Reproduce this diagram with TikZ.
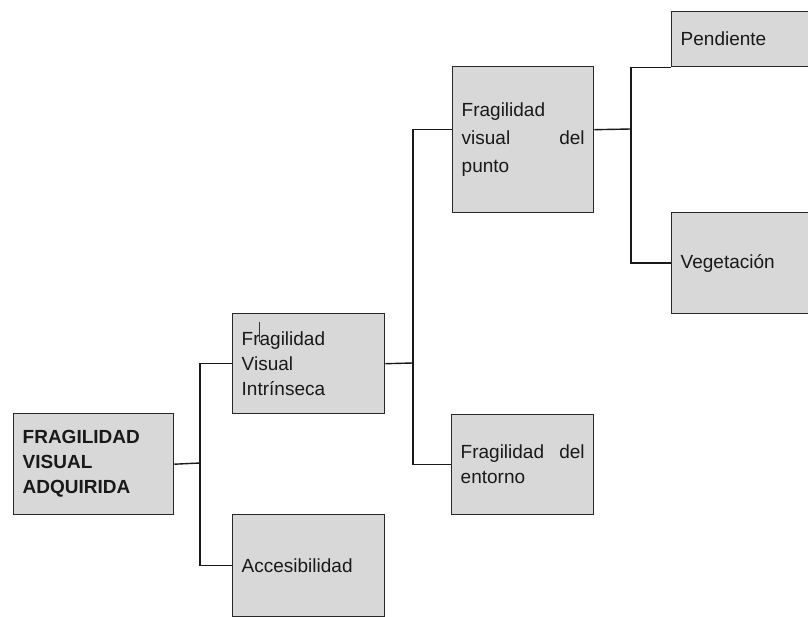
\documentclass[tikz,border=0pt]{standalone}
\usepackage{fontspec}
\setmainfont{Liberation Sans}
\definecolor{boxfill}{RGB}{216,216,216}
\definecolor{boxline}{RGB}{40,40,40}
\tikzset{
  box/.style={draw=boxline, line width=1.4pt, fill=boxfill, rectangle,
    anchor=north west, inner xsep=9pt, inner ysep=2pt, align=left,
    font=\fontsize{19}{25}\selectfont, text=black!90},
  conn/.style={draw=black!90, line width=1.4pt},
}
\begin{document}
\begin{tikzpicture}[x=1pt,y=-1pt]
\useasboundingbox (0,0) rectangle (808,617);
\clip (0,0) rectangle (808,617);
\fill[white] (0,0) rectangle (808,617);
% boxes
\node[box, minimum width=160pt, minimum height=101pt, text width=142pt,
  font=\fontsize{19}{25}\selectfont\bfseries] (A) at (13,413)
  {FRAGILIDAD\\VISUAL\\ADQUIRIDA};
\node[box, minimum width=152pt, minimum height=100pt, text width=134pt] (B) at (232,313)
  {Fragilidad\\Visual\\Intrínseca};
\node[box, minimum width=152pt, minimum height=102pt, text width=134pt] (E) at (232,514)
  {Accesibilidad};
\node[box, minimum width=141pt, minimum height=146pt, text width=123pt,
  font=\fontsize{19}{28}\selectfont] (C) at (452,66)
  {Fragilidad\\visual\hfill del\\punto};
\node[box, minimum width=142pt, minimum height=100pt, text width=124pt] (D) at (451,414)
  {Fragilidad\hfill del\\entorno};
\node[box, minimum width=160pt, minimum height=55pt, text width=142pt] (F) at (671,11)
  {Pendiente};
\node[box, minimum width=160pt, minimum height=101pt, text width=142pt] (G) at (671,212)
  {Vegetación};
% cursor mark
\draw[black!80, line width=0.8pt] (259,322) -- (259,342);
% junctions
\coordinate (j1) at (200,463);
\coordinate (j2) at (413,363);
\coordinate (j3) at (631,129);
% connectors
\draw[conn] (A.east) -- (j1);
\draw[conn] (j1) |- (B.west);
\draw[conn] (j1) |- (E.west);
\draw[conn] (B.east) -- (j2);
\draw[conn] (j2) |- ([yshift=10pt]C.west);
\draw[conn] (j2) |- (D.west);
\draw[conn] ([yshift=10pt]C.east) -- (j3);
\draw[conn] (j3) |- (F.south west);
\draw[conn] (j3) |- (G.west);
\end{tikzpicture}
\end{document}
